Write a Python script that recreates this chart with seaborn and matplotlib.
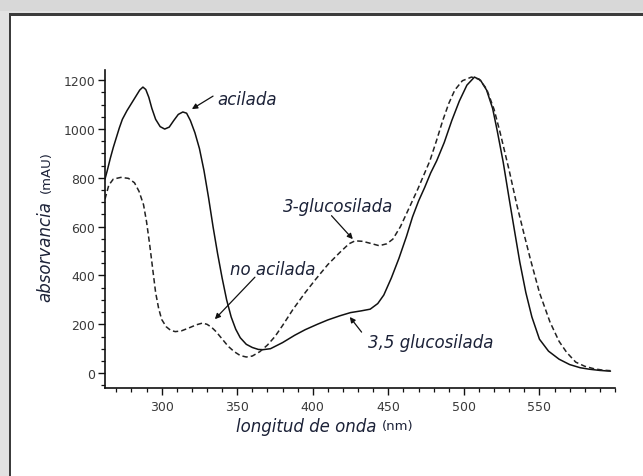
import numpy as np
import pandas as pd
import matplotlib
matplotlib.use("Agg")
import matplotlib.pyplot as plt
from matplotlib.patches import Rectangle
from matplotlib.ticker import MultipleLocator
import seaborn as sns

# dashed curve (no acilada / 3-glucosilada)
wl_dash = [262.5, 265, 268, 273, 278, 282, 285, 288, 290, 292, 294, 296, 298, 300, 303, 306, 309,
           313, 318, 323, 327, 330, 333, 336, 340, 344, 348, 352, 356, 360, 365, 370, 375, 380,
           387, 395, 402, 410, 418, 424, 428, 433, 438, 444, 449, 453, 458, 464, 469.5, 473.5,
           477.5, 482, 486, 490, 494, 499, 505, 510, 515, 520, 524, 530, 535, 540, 544, 550, 557,
           563, 568, 574, 580, 586, 592, 597]
abs_dash = [713, 770, 795, 802, 798, 780, 745, 690, 620, 530, 430, 330, 265, 220, 190, 175, 170,
            173, 185, 198, 205, 200, 188, 170, 140, 110, 88, 72, 66, 70, 88, 115, 150, 195,
            262, 330, 385, 445, 495, 530, 542, 540, 532, 522, 530, 549, 600, 680, 754, 812,
            870, 955, 1035, 1105, 1160, 1198, 1213, 1205, 1165, 1080, 985, 830, 690, 565, 467, 330, 209,
            130, 85, 45, 28, 18, 12, 10]

# solid curve (acilada / 3,5 glucosilada)
wl_solid = [262.5, 264, 266, 268, 270, 272, 274, 277, 280, 283, 285.5, 287.6, 289.5, 291.5, 293.5,
            296, 299, 302, 305, 308, 311, 314, 316.5, 319, 322, 325, 328, 331, 334, 337, 340, 343,
            346, 349, 352, 356, 360, 364, 367, 372, 380, 388, 395, 403, 410, 418, 425, 432, 438,
            443, 447, 452, 457, 462, 466, 470, 474, 478, 482, 487, 492, 497, 502, 507, 511, 515,
            519, 522, 526, 530, 534, 537, 541, 545, 550, 556, 563, 570, 577, 583, 590, 597]
abs_solid = [795, 830, 880, 925, 965, 1005, 1040, 1075, 1105, 1135, 1160, 1172, 1162, 1130, 1085,
             1040, 1010, 1000, 1008, 1035, 1060, 1070, 1065, 1035, 985, 920, 830, 720, 600, 490, 390, 300,
             230, 180, 145, 118, 105, 97, 96, 100, 125, 155, 178, 200, 218, 235, 248, 255, 262,
             285, 320, 390, 470, 560, 640, 705, 760, 820, 870, 945, 1035, 1115, 1180, 1213, 1200, 1160,
             1085, 995, 865, 713, 565, 455, 330, 230, 139, 90, 57, 35, 22, 16, 11, 8]

df_dash = pd.DataFrame({"nm": wl_dash, "mAU": abs_dash})
df_solid = pd.DataFrame({"nm": wl_solid, "mAU": abs_solid})

sns.set_style("ticks")
txt = "#1c2238"
tick_c = "#3a3a3a"

fig = plt.figure(figsize=(6.43, 4.77), dpi=100)
fig.patch.set_facecolor("#e2e2e2")
W, H = 643, 477

def px(x, y):
    return x / W, 1 - y / H

# window frame
fig.add_artist(Rectangle((0, 1 - 12 / H), 1, 12 / H, transform=fig.transFigure,
                         facecolor="#d8d8d8", edgecolor="none", zorder=-10))
fig.add_artist(Rectangle((11 / W, 0), 1, 1 - 17 / H, transform=fig.transFigure,
                         facecolor="white", edgecolor="none", zorder=-9))
fig.add_artist(Rectangle((8.5 / W, 0), 2.5 / W, 1 - 13.5 / H, transform=fig.transFigure,
                         facecolor="#3c3c3c", edgecolor="none", zorder=-8))
fig.add_artist(Rectangle((8.5 / W, 1 - 16.5 / H), 1, 3 / H, transform=fig.transFigure,
                         facecolor="#3c3c3c", edgecolor="none", zorder=-8))

ax = fig.add_axes([105 / W, 88 / H, 510 / W, 318 / H])
ax.set_facecolor("none")

sns.lineplot(data=df_solid, x="nm", y="mAU", ax=ax, color="#111111", lw=1.1, sort=False)
sns.lineplot(data=df_dash, x="nm", y="mAU", ax=ax, color="#222222", lw=1.1, sort=False,
             linestyle=(0, (3.5, 2)))

ax.set_xlim(262.5, 600)
ax.set_ylim(-61, 1242)
ax.set_xticks([300, 350, 400, 450, 500, 550])
ax.set_yticks([0, 200, 400, 600, 800, 1000, 1200])
ax.xaxis.set_minor_locator(MultipleLocator(10))
ax.yaxis.set_minor_locator(MultipleLocator(50))
ax.tick_params(which="major", length=5, width=1, color="#111", labelsize=9,
               labelcolor=tick_c)
ax.tick_params(axis="x", which="major", pad=4)
ax.tick_params(axis="y", which="major", pad=2)
ax.tick_params(which="minor", length=3, width=0.9, color="#111")
sns.despine(ax=ax)
for s in ["left", "bottom"]:
    ax.spines[s].set_linewidth(1.2)
    ax.spines[s].set_color("#111")
ax.set_xlabel("")
ax.set_ylabel("")

font_it = dict(family="DejaVu Sans", style="italic", color=txt)
arr = dict(arrowstyle="-|>", color="#111", lw=0.9, mutation_scale=8, shrinkA=0, shrinkB=0)

ax.annotate("", xy=(320, 1082), xytext=(334, 1135), arrowprops=arr)
ax.text(337, 1123, "acilada", fontsize=12, va="center", ha="left", **font_it)

ax.annotate("", xy=(335.2, 221), xytext=(361.7, 393), arrowprops=arr)
ax.text(345.2, 426, "no acilada", fontsize=12, va="center", ha="left", **font_it)

ax.annotate("", xy=(426.5, 549), xytext=(412.4, 645), arrowprops=arr)
ax.text(380, 684, "3-glucosilada", fontsize=12, va="center", ha="left", **font_it)

ax.annotate("", xy=(424.5, 230), xytext=(432.3, 168), arrowprops=arr)
ax.text(436.5, 127, "3,5 glucosilada", fontsize=12, va="center", ha="left", **font_it)

# axis titles
x, y = px(45, 252)
fig.text(x, y, "absorvancia", rotation=90, fontsize=12, ha="center", va="center", **font_it)
x, y = px(46, 172)
fig.text(x, y, "(mAU)", rotation=90, fontsize=9.5, ha="center", va="center",
         family="DejaVu Sans", color=txt)
x, y = px(376, 427)
fig.text(x, y, "longitud de onda", fontsize=12, ha="right", va="center", **font_it)
x, y = px(382, 427)
fig.text(x, y, "(nm)", fontsize=9.5, ha="left", va="center", family="DejaVu Sans", color=txt)

fig.savefig("out.png", dpi=100, facecolor=fig.get_facecolor())
